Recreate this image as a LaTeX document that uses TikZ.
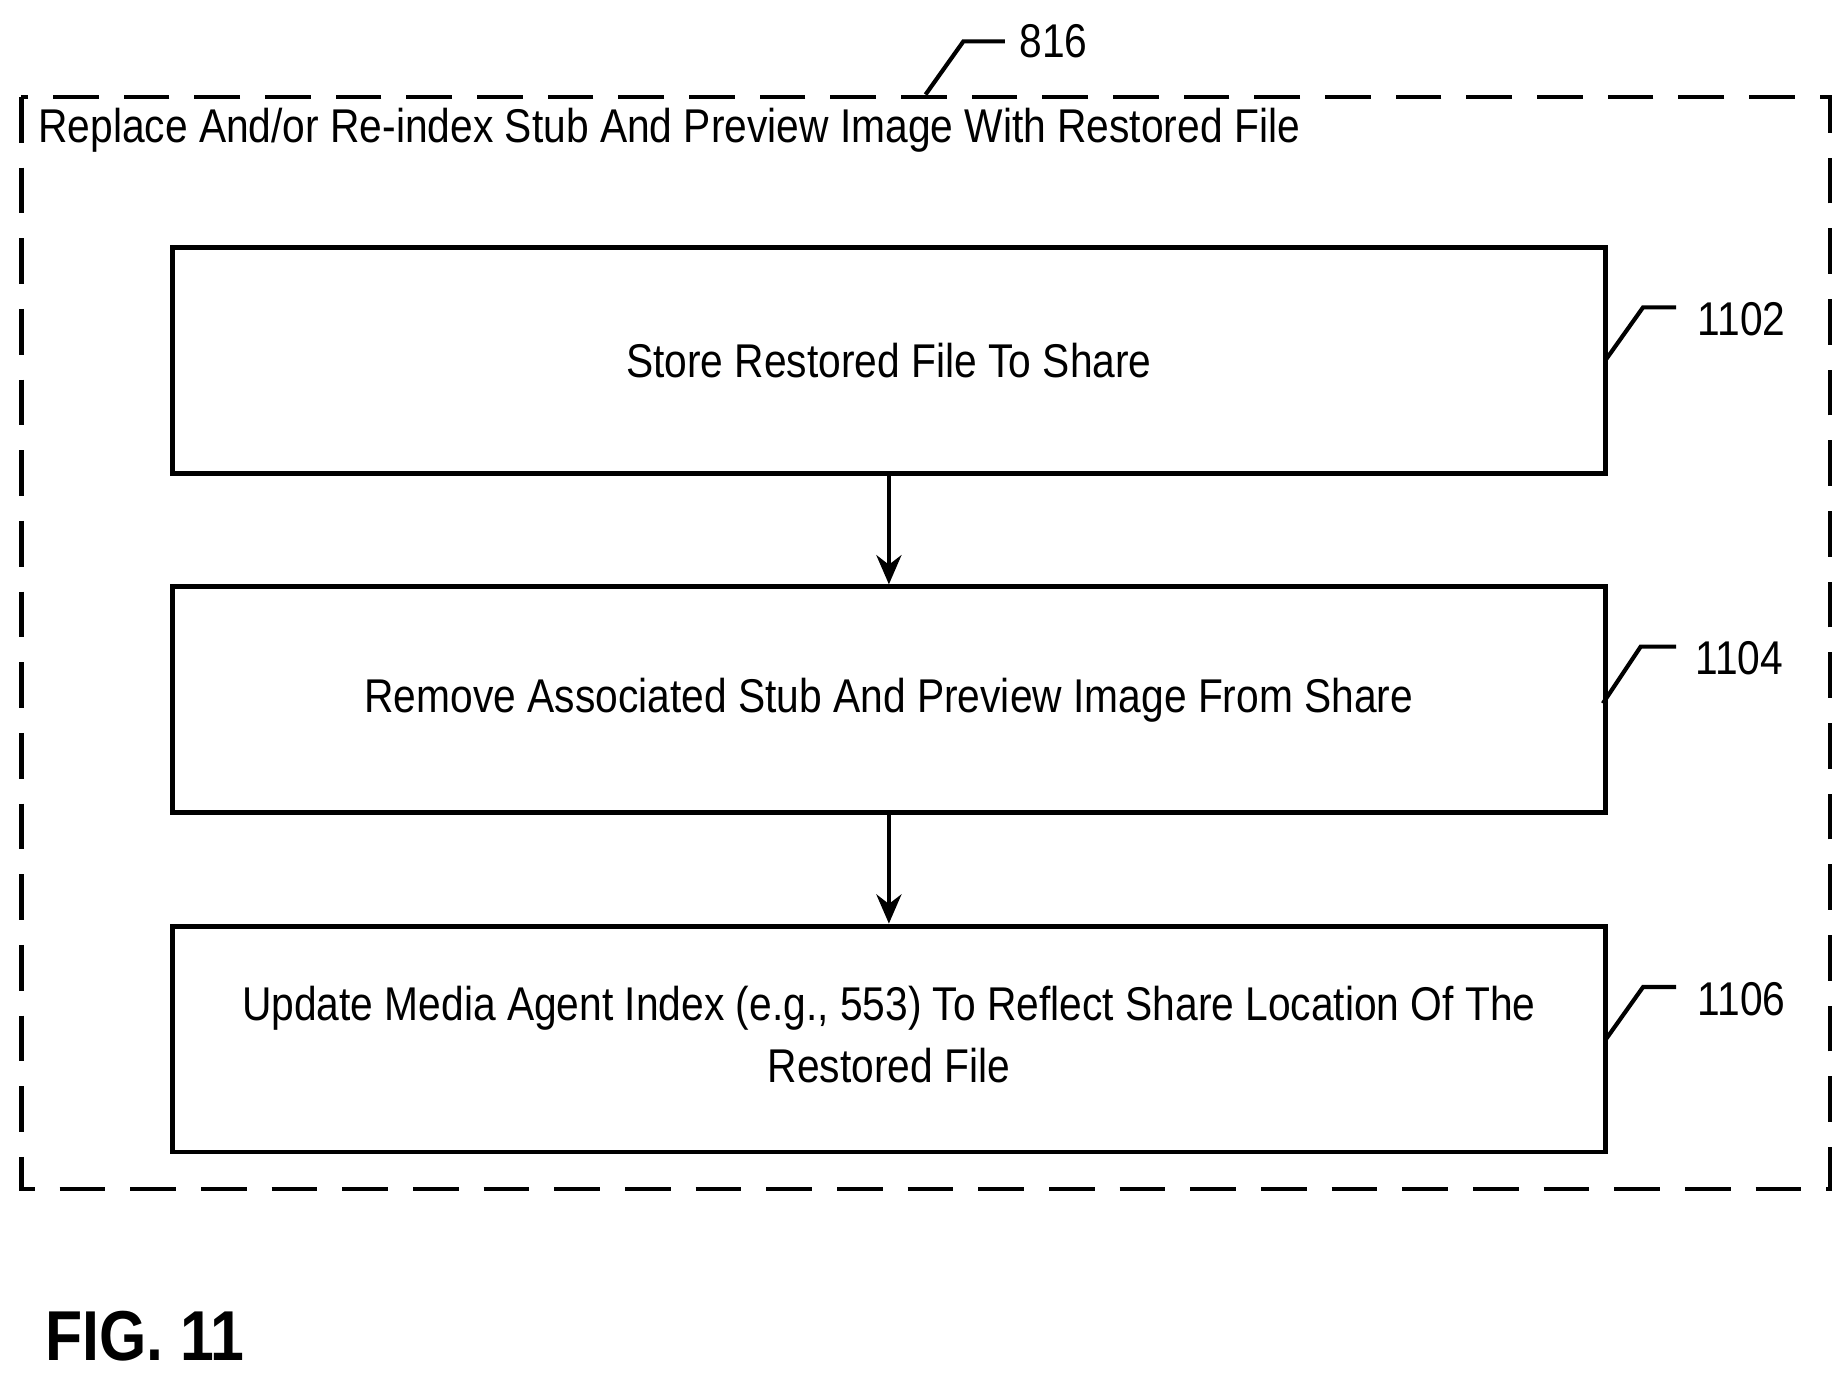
\documentclass[tikz,border=0pt]{standalone}
\usepackage{fontspec}
\usetikzlibrary{arrows.meta}
\setmainfont{Liberation Sans}
\newcommand{\nar}[1]{\scalebox{0.86}[1]{#1}}
\begin{document}
\begin{tikzpicture}[x=0.01cm,y=-0.01cm,
  box/.style={draw,line width=1.2pt,minimum width=12.12cm,minimum height=1.91cm,align=center,font=\fontsize{11.4pt}{15pt}\selectfont},
  lbl/.style={font=\fontsize{11.4pt}{13pt}\selectfont},
  lead/.style={line width=1pt},
  arr/.style={line width=1.1pt,-{Stealth[length=7pt,width=6pt]}}]
\useasboundingbox (0,0) rectangle (1560,1166);
\draw[line width=1.1pt,dash pattern=on 11pt off 6pt] (18,82) rectangle (1548,1006);
\node[lbl,anchor=west] (title) at (20,110) {\nar{Replace And/or Re-index Stub And Preview Image With Restored File}};
\node[box] (b1) at (752,305) {\nar{Store Restored File To Share}};
\node[box] (b2) at (752,592) {\nar{Remove Associated Stub And Preview Image From Share}};
\node[box] (b3) at (752,879) {\nar{\begin{tabular}{c}Update Media Agent Index (e.g., 553) To Reflect Share Location Of The\\Restored File\end{tabular}}};
\draw[arr] (b1) -- (b2);
\draw[arr] (b2) -- (b3);
\node[lbl,anchor=west] (n816) at (850,35) {\nar{816}};
\draw[lead] (783,80) -- (815,35) -- (n816.west);
\node[lbl,anchor=west] (n1102) at (1424,270) {\nar{1102}};
\draw[lead] (1358,305) -- (1390,260) -- (1418,260);
\node[lbl,anchor=west] (n1104) at (1422,557) {\nar{1104}};
\draw[lead] (1356,595) -- (1388,547) -- (1418,547);
\node[lbl,anchor=west] (n1106) at (1424,845) {\nar{1106}};
\draw[lead] (1358,880) -- (1390,835) -- (1418,835);
\node[anchor=west,font=\bfseries\fontsize{17pt}{20pt}\selectfont] (fig) at (26,1130) {\nar{FIG. 11}};
\end{tikzpicture}
\end{document}
